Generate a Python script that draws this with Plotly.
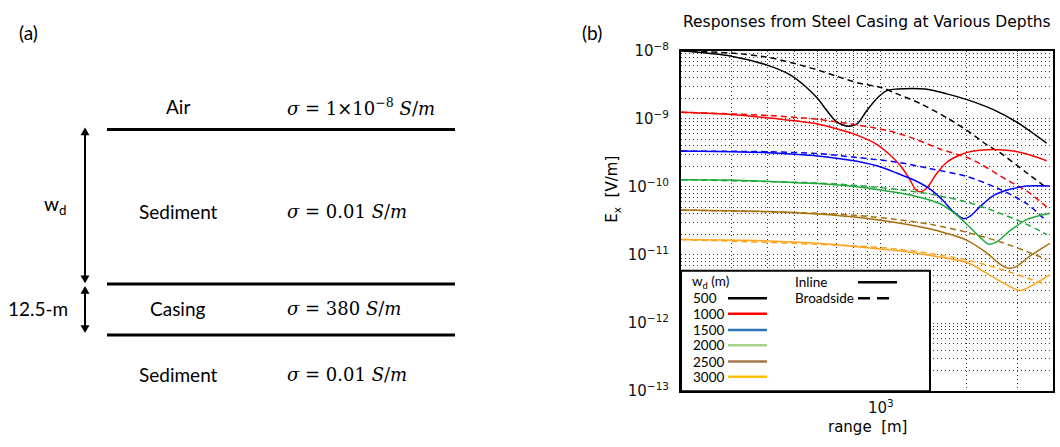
import plotly.graph_objects as go
import math

W, H = 1060, 447

# ---------------------------------------------------------------- data
depths = [500, 1000, 1500, 2000, 2500, 3000]
curve_colors = ["#000000", "#ff0000", "#0000ff", "#1faa3c", "#a86f0c", "#ffa31a"]
legend_colors = ["#000000", "#ff0000", "#2e75b6", "#a9d18e", "#a5784c", "#ffc000"]

# Inline responses, E_x [V/m] vs range [m]
inline_500_x = [200, 300, 400, 480, 550, 600, 650, 700, 770, 825, 890, 970, 1050, 1140, 1430, 1700, 2000, 2475, 3025, 3800]
inline_500_y = [9.93e-9, 8.30e-9, 6.12e-9, 4.44e-9, 2.88e-9, 2.0e-9, 1.29e-9, 9.02e-10, 7.76e-10, 8.38e-10,
                1.29e-9, 2.0e-9, 2.59e-9, 2.73e-9, 2.73e-9, 2.32e-9, 1.91e-9, 1.36e-9, 8.65e-10, 4.39e-10]
inline_1000_x = [200, 300, 400, 500, 600, 700, 825, 970, 1100, 1180, 1265, 1320, 1370, 1450, 1570, 1700, 1890, 2105, 2475, 2910, 3410, 3800]
inline_1000_y = [1.245e-9, 1.156e-9, 1.035e-9, 9.33e-10, 8.38e-10, 7.13e-10, 5.74e-10, 4.17e-10, 2.70e-10, 1.96e-10,
                 1.27e-10, 9.2e-11, 8.45e-11, 9.7e-11, 1.585e-10, 2.30e-10, 2.94e-10, 3.35e-10, 3.53e-10, 3.35e-10,
                 2.84e-10, 2.42e-10]
inline_1500_x = [200, 300, 400, 500, 600, 700, 825, 1000, 1140, 1300, 1490, 1650, 1790, 1945, 2050, 2220, 2475, 2830, 3235, 3900]
inline_1500_y = [3.35e-10, 3.28e-10, 3.18e-10, 3.01e-10, 2.84e-10, 2.64e-10, 2.38e-10, 1.96e-10, 1.585e-10, 1.27e-10,
                 9.2e-11, 6.31e-11, 4.34e-11, 3.42e-11, 3.69e-11, 5.09e-11, 7.43e-11, 9.2e-11, 1.026e-10, 1.026e-10]
inline_2000_x = [200, 300, 400, 600, 825, 1000, 1300, 1610, 1840, 2050, 2220, 2380, 2540, 2830, 3235, 3900]
inline_2000_y = [1.27e-10, 1.26e-10, 1.205e-10, 1.117e-10, 1.0e-10, 9.0e-11, 7.43e-11, 5.66e-11, 3.89e-11, 2.53e-11,
                 1.83e-11, 1.445e-11, 1.56e-11, 2.27e-11, 3.31e-11, 4.10e-11]
inline_2500_x = [200, 400, 600, 825, 1140, 1490, 2000, 2345, 2610, 2790, 2985, 3320, 3900]
inline_2500_y = [4.57e-11, 4.34e-11, 3.98e-11, 3.57e-11, 2.97e-11, 2.40e-11, 1.64e-11, 1.07e-11, 7.33e-12, 6.38e-12,
                 6.81e-12, 9.6e-12, 1.48e-11]
inline_3000_x = [200, 400, 600, 825, 1140, 1490, 2000, 2410, 2755, 3065, 3410, 3900]
inline_3000_y = [1.68e-11, 1.61e-11, 1.48e-11, 1.32e-11, 1.16e-11, 9.82e-12, 7.74e-12, 5.02e-12, 3.64e-12, 3.0e-12,
                 3.64e-12, 5.14e-12]

# Broadside responses
broad_500_x = [200, 300, 400, 500, 600, 700, 825, 1000, 1140, 1370, 1700, 2000, 2345, 2610, 3235, 3800]
broad_500_y = [9.93e-9, 9.23e-9, 8.02e-9, 6.46e-9, 5.21e-9, 4.21e-9, 3.39e-9, 2.88e-9, 2.32e-9, 1.68e-9,
               1.035e-9, 6.75e-10, 4.17e-10, 3.18e-10, 1.61e-10, 9.7e-11]
broad_1000_x = [200, 400, 600, 825, 1050, 1300, 1610, 2000, 2220, 2755, 3235, 3800]
broad_1000_y = [1.245e-9, 1.12e-9, 9.84e-10, 8.11e-10, 6.75e-10, 5.15e-10, 3.6e-10, 2.70e-10, 2.19e-10, 1.27e-10,
                8.71e-11, 5.09e-11]
broad_1500_x = [200, 400, 600, 825, 1140, 1490, 2000, 2610, 3235, 3800]
broad_1500_y = [3.35e-10, 3.28e-10, 3.08e-10, 2.70e-10, 2.30e-10, 1.85e-10, 1.42e-10, 9.2e-11, 5.66e-11, 3.14e-11]
broad_2000_x = [200, 600, 825, 1140, 1490, 2000, 2610, 3235, 3800]
broad_2000_y = [1.27e-10, 1.14e-10, 1.047e-10, 9.2e-11, 7.82e-11, 5.98e-11, 4.10e-11, 2.82e-11, 2.0e-11]
broad_2500_x = [200, 600, 825, 1140, 1490, 2000, 2610, 3235, 3800]
broad_2500_y = [4.57e-11, 4.10e-11, 3.81e-11, 3.31e-11, 2.82e-11, 2.15e-11, 1.56e-11, 1.13e-11, 8.6e-12]
broad_3000_x = [200, 825, 1140, 1490, 2000, 2610, 3235, 3800]
broad_3000_y = [1.68e-11, 1.355e-11, 1.22e-11, 1.05e-11, 8.43e-12, 6.24e-12, 4.62e-12, 3.64e-12]

inline_x = [inline_500_x, inline_1000_x, inline_1500_x, inline_2000_x, inline_2500_x, inline_3000_x]
inline_y = [inline_500_y, inline_1000_y, inline_1500_y, inline_2000_y, inline_2500_y, inline_3000_y]
broad_x = [broad_500_x, broad_1000_x, broad_1500_x, broad_2000_x, broad_2500_x, broad_3000_x]
broad_y = [broad_500_y, broad_1000_y, broad_1500_y, broad_2000_y, broad_2500_y, broad_3000_y]

# Axis ticks / grid
x_major_vals = [1000]
x_major_text = ["10<sup>3</sup>"]
x_minor_vals = [300, 400, 500, 600, 700, 800, 900, 2000, 3000]
y_exponents = [-13, -12, -11, -10, -9, -8]

# Layer model (panel a)
layer_names = ["Air", "Sediment", "Casing", "Sediment"]
layer_sigmas = ["<i>σ</i> = 1×10<sup>−8</sup> <i>S</i>/<i>m</i>",
                "<i>σ</i> = 0.01 <i>S</i>/<i>m</i>",
                "<i>σ</i> = 380 <i>S</i>/<i>m</i>",
                "<i>σ</i> = 0.01 <i>S</i>/<i>m</i>"]

# ---------------------------------------------------------------- layout helpers
PLOT_L, PLOT_R, PLOT_T, PLOT_B = 681, 1053, 41.5, 398
TICK_FONT = dict(family="DejaVu Sans", size=15, color="#111111")
TEXT_FONT = "Lato"
MATH_FONT = "DejaVu Serif"

fig = go.Figure()

for i, d in enumerate(depths):
    fig.add_trace(go.Scatter(x=broad_x[i], y=broad_y[i], mode="lines",
                             line=dict(color=curve_colors[i], width=1.5, dash="6px,4px",
                                       shape="spline", smoothing=0.8),
                             name=f"{d} broadside", showlegend=False, hoverinfo="skip"))
    fig.add_trace(go.Scatter(x=inline_x[i], y=inline_y[i], mode="lines",
                             line=dict(color=curve_colors[i], width=1.5, shape="spline", smoothing=0.8),
                             name=f"{d} inline", showlegend=False, hoverinfo="skip"))

# invisible trace that anchors the overlay coordinate system (pixel space)
fig.add_trace(go.Scatter(x=[], y=[], xaxis="x2", yaxis="y2", showlegend=False, hoverinfo="skip"))

y_major_vals = [10.0 ** n for n in y_exponents]
y_major_text = [f"10<sup>−{-n}</sup>" for n in y_exponents]
y_minor_vals = [k * 10.0 ** n for n in y_exponents[:-1] for k in range(2, 10)]

grid_style = dict(showgrid=True, gridcolor="#3a3a3a", gridwidth=1, griddash="1px,3px")
minor_grid = dict(showgrid=True, gridcolor="#3a3a3a", gridwidth=1, griddash="1px,3px", ticks="")

fig.update_layout(
    width=W, height=H,
    margin=dict(l=0, r=0, t=0, b=0),
    paper_bgcolor="white", plot_bgcolor="rgba(0,0,0,0)",
    xaxis=dict(type="log", range=[math.log10(200), math.log10(4000)],
               domain=[PLOT_L / W, PLOT_R / W],
               tickmode="array", tickvals=x_major_vals, ticktext=x_major_text,
               minor=dict(tickmode="array", tickvals=x_minor_vals, **minor_grid),
               ticks="", tickfont=TICK_FONT, ticklabelstandoff=2,
               showline=True, mirror=True, linecolor="black", linewidth=2,
               zeroline=False, anchor="y", **grid_style),
    yaxis=dict(type="log", range=[-13, -8],
               domain=[1 - PLOT_B / H, 1 - PLOT_T / H],
               tickmode="array", tickvals=y_major_vals, ticktext=y_major_text,
               minor=dict(tickmode="array", tickvals=y_minor_vals, **minor_grid),
               ticks="", tickfont=TICK_FONT, ticklabelstandoff=7,
               showline=True, mirror=True, linecolor="black", linewidth=2,
               zeroline=False, anchor="x", **grid_style),
    xaxis2=dict(range=[0, W], domain=[0, 1], visible=False, anchor="y2", fixedrange=True),
    yaxis2=dict(range=[H, 0], domain=[0, 1], visible=False, anchor="x2", fixedrange=True),
    showlegend=False,
)

shapes = []
annotations = []


def text(x, y, s, size, family=TEXT_FONT, anchor="center", color="black"):
    annotations.append(dict(x=x, y=y, xref="x2", yref="y2", text=s, showarrow=False,
                            xanchor=anchor, yanchor="middle",
                            font=dict(family=family, size=size, color=color)))


def hline(x0, x1, y, color="black", width=2.5, dash=None):
    ln = dict(color=color, width=width)
    if dash:
        ln["dash"] = dash
    shapes.append(dict(type="line", xref="x2", yref="y2", x0=x0, x1=x1, y0=y, y1=y,
                       line=ln, layer="above"))


def double_arrow(x, y0, y1, head_w=4.5, head_h=8):
    shapes.append(dict(type="line", xref="x2", yref="y2", x0=x, x1=x, y0=y0 + head_h - 1, y1=y1 - head_h + 1,
                       line=dict(color="black", width=2), layer="above"))
    for tip, base in ((y0, y0 + head_h), (y1, y1 - head_h)):
        shapes.append(dict(type="path", xref="x2", yref="y2",
                           path=f"M {x} {tip} L {x - head_w} {base} L {x + head_w} {base} Z",
                           fillcolor="black", line=dict(color="black", width=0), layer="above"))


# ---------------------------------------------------------------- panel (a): layered model
text(28, 22, "(a)", 19)
for y in (124, 285.7, 339.3):
    hline(107, 455, y, width=3)

layer_y = [100, 210, 311, 380]
for name, sig, y in zip(layer_names, layer_sigmas, layer_y):
    text(178, y, name, 19)
    text(285, y, sig, 18, family=MATH_FONT, anchor="left")

text(55, 203, "w<sub>d</sub>", 19)
text(38, 311, "12.5-m", 19)

double_arrow(85, 122, 285)
double_arrow(85, 288, 337)

# ---------------------------------------------------------------- panel (b): labels
text(592, 22, "(b)", 19)
text(867, 12, "Responses from Steel Casing at Various Depths", 15.5, family="DejaVu Sans")
text(867, 436, "range  [m]", 15, family="DejaVu Sans")
annotations.append(dict(x=613, y=187, xref="x2", yref="y2", text="E<sub>x</sub>  [V/m]", showarrow=False,
                        textangle=-90, xanchor="center", yanchor="middle",
                        font=dict(family="DejaVu Sans", size=15, color="black")))

# ---------------------------------------------------------------- legend box
shapes.append(dict(type="rect", xref="x2", yref="y2", x0=PLOT_L, x1=930, y0=272, y1=PLOT_B,
                   fillcolor="white", line=dict(color="black", width=2), layer="above"))
text(690, 284, "w<sub>d</sub> (m)", 13.5, anchor="left")
row_y = [300.7, 317, 334, 350, 367, 383]
for d, c, y in zip(depths, legend_colors, row_y):
    text(691, y, str(d), 13.5, anchor="left")
    hline(728, 767, y, color=c, width=2.5)
text(793, 284, "Inline", 13.5, anchor="left")
hline(858, 897, 284, width=2.5)
text(793, 300.7, "Broadside", 13.5, anchor="left")
hline(858, 889, 300.7, width=2.5, dash="12px,7px")

fig.update_layout(shapes=shapes, annotations=annotations)

fig.write_html("out.html")
